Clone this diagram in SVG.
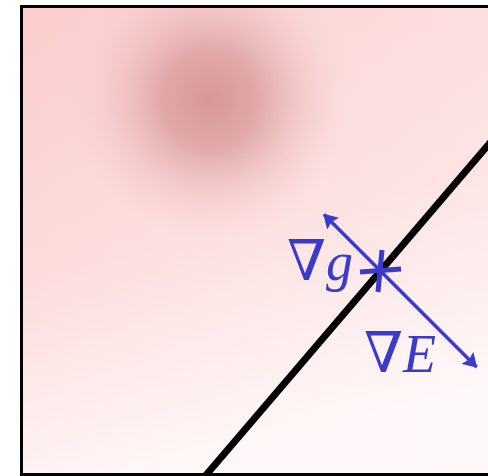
<svg xmlns="http://www.w3.org/2000/svg" width="488" height="476" viewBox="0 0 488 476">
  <style>
    .lbl { fill: #3a3acc; }
    .nab { font-family: "DejaVu Serif", serif; font-size: 56px; }
    .var { font-family: "Liberation Serif", serif; font-style: italic; font-size: 54px; }
    .blue { stroke: #3a3acc; fill: none; }
  </style>
  <defs>
    <linearGradient id="bg" x1="0" y1="0" x2="0.25" y2="1">
      <stop offset="0" stop-color="#fbcccc"/>
      <stop offset="0.55" stop-color="#fcdcdc"/>
      <stop offset="1" stop-color="#fff6f6"/>
    </linearGradient>
    <linearGradient id="side" x1="0" y1="0" x2="1" y2="0">
      <stop offset="0" stop-color="#ffffff" stop-opacity="0"/>
      <stop offset="1" stop-color="#ffffff" stop-opacity="0.25"/>
    </linearGradient>
    <radialGradient id="blob" cx="210" cy="100" r="140" gradientUnits="userSpaceOnUse">
      <stop offset="0" stop-color="#d08a8a" stop-opacity="0.85"/>
      <stop offset="0.35" stop-color="#d69494" stop-opacity="0.7"/>
      <stop offset="0.7" stop-color="#e6aeae" stop-opacity="0.3"/>
      <stop offset="1" stop-color="#f5c8c8" stop-opacity="0"/>
    </radialGradient>
    <marker id="ah" viewBox="0 0 14 17" refX="13" refY="8.5" markerWidth="14" markerHeight="17" orient="auto-start-reverse" markerUnits="userSpaceOnUse">
      <path d="M0,0 L14,8.5 L0,17 L2.5,8.5 z" fill="#3a3acc"/>
    </marker>
    <clipPath id="clip"><rect x="21" y="6" width="470" height="470"/></clipPath>
  </defs>
  <g id="background">
    <rect x="21" y="6" width="470" height="470" fill="url(#bg)"/>
    <rect x="21" y="6" width="470" height="470" fill="url(#side)"/>
    <rect x="21" y="6" width="470" height="470" fill="url(#blob)"/>
  </g>
  <g id="constraint">
    <line x1="195" y1="488" x2="500" y2="131" stroke="#000" stroke-width="7" clip-path="url(#clip)"/>
  </g>
  <g id="connectors">
    <line class="blue" x1="324" y1="214.5" x2="476.5" y2="367" stroke-width="3.5" marker-start="url(#ah)" marker-end="url(#ah)"/>
  </g>
  <g id="point">
    <line class="blue" x1="360" y1="272" x2="401" y2="269" stroke-width="5"/>
    <line class="blue" x1="382" y1="250" x2="378" y2="292" stroke-width="5"/>
  </g>
  <g id="label-grad-g">
    <text class="lbl" x="287" y="280"><tspan class="nab">∇</tspan><tspan class="var">g</tspan></text>
  </g>
  <g id="label-grad-E">
    <text class="lbl" x="364" y="372"><tspan class="nab">∇</tspan><tspan class="var">E</tspan></text>
  </g>
  <g id="frame">
    <rect x="21.5" y="6.5" width="480" height="468" fill="none" stroke="#000" stroke-width="3"/>
  </g>
</svg>
